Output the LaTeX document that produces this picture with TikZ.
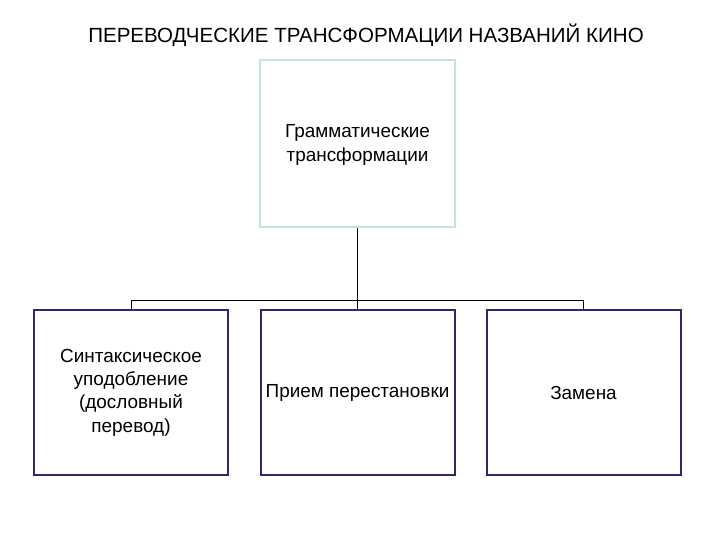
\documentclass[tikz,border=0pt]{standalone}
\usepackage{fontspec}
\setmainfont{Liberation Sans}
\definecolor{topb}{RGB}{200,225,225}
\definecolor{botb}{RGB}{45,40,110}
\begin{document}
\begin{tikzpicture}[x=0.75pt,y=-0.75pt,
  topbox/.style={draw=topb,line width=1.5pt,minimum width=195*0.75pt,minimum height=167*0.75pt,align=center,font=\fontsize{14.2}{17.5}\selectfont},
  botbox/.style={draw=botb,line width=1.5pt,minimum width=194*0.75pt,minimum height=165*0.75pt,align=center,font=\fontsize{14.2}{17.5}\selectfont},
  conn/.style={draw=black,line width=0.6pt}]
\useasboundingbox (0,0) rectangle (720,540);
\node[font=\fontsize{15.4}{18}\selectfont] (title) at (366,35) {ПЕРЕВОДЧЕСКИЕ ТРАНСФОРМАЦИИ НАЗВАНИЙ КИНО};
\node[topbox] (top) at (357.5,143.5) {};
\node[font=\fontsize{14.2}{17.5}\selectfont,align=center] (toptext) at (357.5,145) {Грамматические\\трансформации};
\node[botbox] (a) at (131,392.5) {Синтаксическое\\уподобление\\(дословный\\перевод)};
\node[botbox] (b) at (357.5,392.5) {Прием перестановки};
\node[botbox] (c) at (583.5,392.5) {Замена};
\coordinate (bl) at (131,300);
\coordinate (br) at (583.5,300);
\draw[conn] (top.south) -- (b.north);
\draw[conn] (bl) -- (br);
\draw[conn] (bl) -- (a.north);
\draw[conn] (br) -- (c.north);
\end{tikzpicture}
\end{document}
